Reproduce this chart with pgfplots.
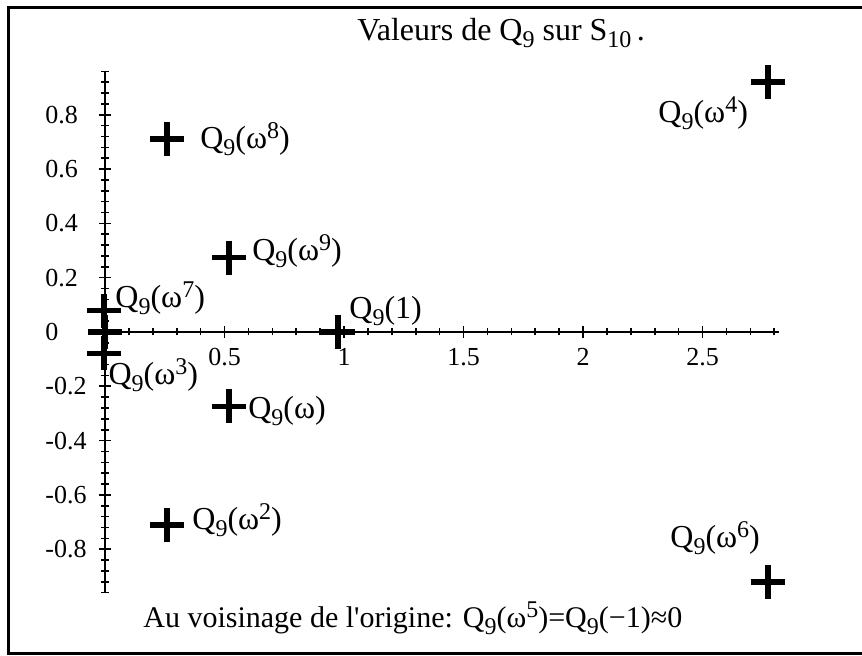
\documentclass[border=0pt]{standalone}
\usepackage{fontspec}
\setmainfont{Liberation Serif}
\usepackage{pgfplots}
\pgfplotsset{compat=1.18}

% small lowered / raised figures in the text font
\newcommand{\sub}[1]{\raisebox{-3.5pt}{\fontsize{12}{12}\selectfont #1}}
\newcommand{\sups}[1]{\raisebox{5pt}{\fontsize{12}{12}\selectfont #1}}
% Q_9(...) in the text font
\newcommand{\Q}[1]{Q\sub{9}(#1)}
\newcommand{\lbl}{\fontsize{16}{19}\selectfont}

\begin{document}
\begin{tikzpicture}
\draw[line width=1.5pt] (431pt,-4pt) -- (4.25pt,-4pt) -- (4.25pt,-327pt) -- (431pt,-327pt);
\begin{axis}[
  at={(52.5pt,-166pt)}, anchor=origin,
  x=119.5pt, y=135.75pt,
  xmin=0, xmax=2.82, ymin=-0.96, ymax=0.96,
  enlargelimits=false,
  axis lines=middle,
  axis line style={-, line width=1pt},
  clip=false,
  xtick={0.5,1,1.5,2,2.5},
  ytick={-0.8,-0.6,-0.4,-0.2,0,0.2,0.4,0.6,0.8},
  minor xtick={0.1,0.2,...,2.8},
  minor ytick={-0.96,-0.92,...,0.96},
  hide obscured x ticks=true,
  hide obscured y ticks=false,
  tick align=center,
  major tick length=6pt, minor tick length=3.5pt,
  every tick/.style={black, line width=0.8pt},
  tick label style={font=\fontsize{13}{15}\selectfont},
  /pgf/number format/assume math mode=true,
  xticklabel style={anchor=north, inner sep=0pt, yshift=-5pt},
  yticklabel style={anchor=west, inner sep=0pt, xshift=-27pt},
]
% values of Q_9 at the tenth roots of unity
\addplot[only marks, mark=+, mark size=8.5pt, black,
  mark options={line width=2.8pt}] coordinates {
  (0.975, 0)        % Q9(1)
  (0.519, -0.274)   % Q9(w)
  (0.259, -0.711)   % Q9(w^2)
  (-0.004, -0.079)  % Q9(w^3)
  (2.774, 0.921)    % Q9(w^4)
  (0, 0)            % Q9(w^5)
  (2.774, -0.921)   % Q9(w^6)
  (-0.004, 0.079)   % Q9(w^7)
  (0.259, 0.711)    % Q9(w^8)
  (0.519, 0.274)    % Q9(w^9)
};
\begin{scope}[every node/.style={anchor=base west, inner sep=0pt, font=\lbl}]
\node at (axis cs:1.054,1.075) {Valeurs de Q\sub{9} sur S\sub{10}\,.};
\node at (axis cs:0.397,0.674) {\Q{ω\sups{8}}};
\node at (axis cs:0.615,0.265) {\Q{ω\sups{9}}};
\node at (axis cs:0.042,0.092) {\Q{ω\sups{7}}};
\node at (axis cs:1.021,0.048) {\Q{1}};
\node at (axis cs:0.013,-0.195) {\Q{ω\sups{3}}};
\node at (axis cs:0.598,-0.317) {\Q{ω}};
\node at (axis cs:0.364,-0.729) {\Q{ω\sups{2}}};
\node at (axis cs:2.314,0.770) {\Q{ω\sups{4}}};
\node at (axis cs:2.364,-0.792) {\Q{ω\sups{6}}};
\node[font=\fontsize{15}{18}\selectfont] at (axis cs:0.159,-1.087)
  {Au voisinage de l\textquotesingle origine: \Q{ω\sups{5}}=\Q{−1}≈0};
\end{scope}
\end{axis}
\pgfresetboundingbox
\useasboundingbox (0,0) rectangle (431pt,-328pt);
\end{tikzpicture}
\end{document}
